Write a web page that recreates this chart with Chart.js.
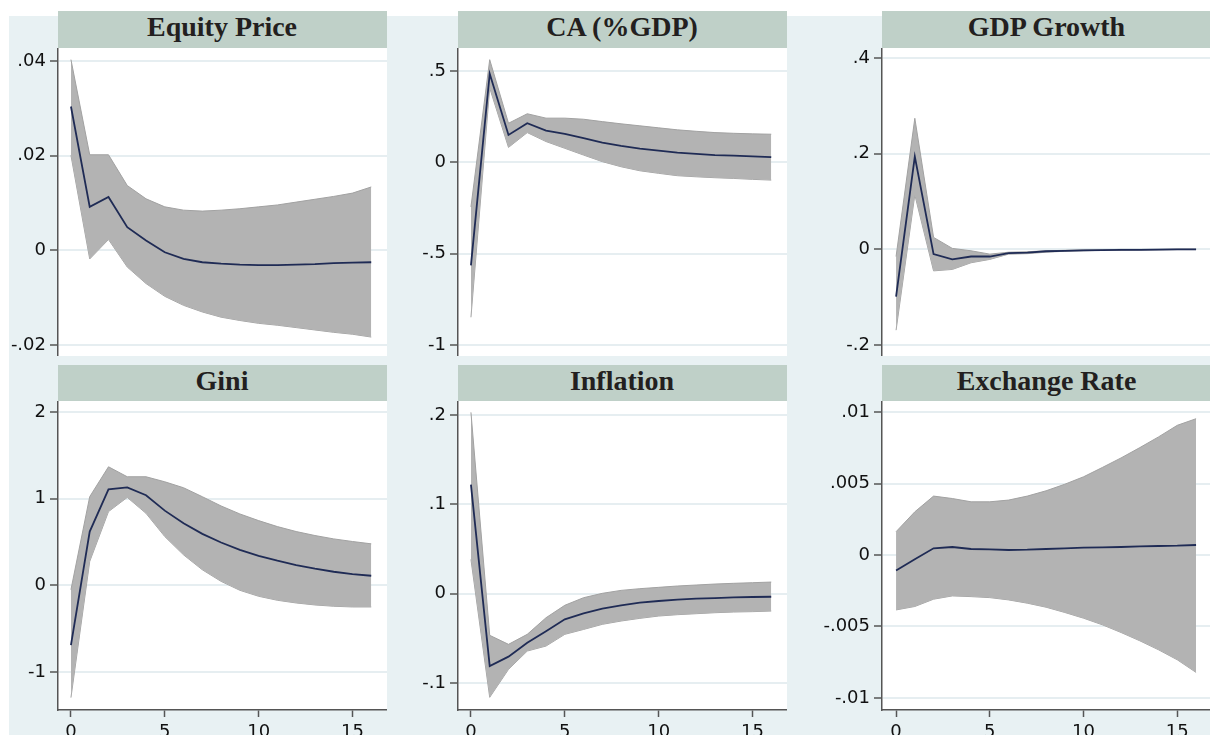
<!DOCTYPE html>
<html>
<head>
<meta charset="utf-8">
<script src="https://cdn.jsdelivr.net/npm/chart.js@4.4.1/dist/chart.umd.min.js"></script>
<style>
  html, body { margin: 0; padding: 0; background: #fff; }
  body { width: 1210px; height: 735px; position: relative; overflow: hidden; }
  #bg { position: absolute; left: 9px; top: 16px; right: 0; bottom: 0; background: #E8F1F3; }
  .title {
    position: absolute; height: 37px; line-height: 36px; background: #BFD0C8;
    text-align: center; font: bold 28px 'Liberation Serif', serif; color: #231f20;
  }
  .box { position: absolute; }
</style>
</head>
<body>
<div id="bg"></div>
<script>
// horizon (periods after the shock)
const horizon = [0, 1, 2, 3, 4, 5, 6, 7, 8, 9, 10, 11, 12, 13, 14, 15, 16];
const xTicks = [0, 5, 10, 15];
const xTickLabels = ['0', '5', '10', '15'];

const equityLine  = [0.0304, 0.0092, 0.0113, 0.0049, 0.0021, -0.0004, -0.0018, -0.0025, -0.0028, -0.0030, -0.0031, -0.0031, -0.0030, -0.0029, -0.0027, -0.0026, -0.0025];
const equityUpper = [0.0403, 0.0202, 0.0202, 0.0137, 0.0109, 0.0092, 0.0085, 0.0083, 0.0085, 0.0088, 0.0092, 0.0096, 0.0102, 0.0108, 0.0114, 0.0121, 0.0134];
const equityLower = [0.0201, -0.0018, 0.0023, -0.0035, -0.0070, -0.0097, -0.0116, -0.0130, -0.0141, -0.0148, -0.0154, -0.0158, -0.0163, -0.0168, -0.0173, -0.0177, -0.0183];
const equityTicks = [-0.02, 0, 0.02, 0.04];
const equityTickLabels = ['-.02', '0', '.02', '.04'];

const caLine  = [-0.564, 0.485, 0.150, 0.214, 0.174, 0.156, 0.132, 0.108, 0.090, 0.075, 0.064, 0.053, 0.046, 0.040, 0.037, 0.033, 0.029];
const caUpper = [-0.244, 0.562, 0.214, 0.266, 0.242, 0.242, 0.236, 0.223, 0.211, 0.200, 0.189, 0.178, 0.170, 0.163, 0.159, 0.156, 0.154];
const caLower = [-0.848, 0.407, 0.082, 0.163, 0.114, 0.077, 0.040, 0.004, -0.024, -0.046, -0.060, -0.073, -0.079, -0.084, -0.088, -0.093, -0.097];
const caTicks = [-1, -0.5, 0, 0.5];
const caTickLabels = ['-1', '-.5', '0', '.5'];

const gdpLine  = [-0.099, 0.194, -0.010, -0.021, -0.015, -0.015, -0.008, -0.007, -0.004, -0.003, -0.002, -0.0015, -0.001, -0.001, -0.0005, 0, 0];
const gdpUpper = [-0.015, 0.274, 0.025, 0.002, -0.003, -0.010, -0.006, -0.005, -0.003, -0.002, -0.001, -0.001, 0, 0, 0, 0.0005, 0.0005];
const gdpLower = [-0.169, 0.114, -0.045, -0.042, -0.028, -0.021, -0.010, -0.009, -0.006, -0.004, -0.003, -0.002, -0.002, -0.0015, -0.001, -0.0005, -0.0005];
const gdpTicks = [-0.2, 0, 0.2, 0.4];
const gdpTickLabels = ['-.2', '0', '.2', '.4'];

const giniLine  = [-0.69, 0.62, 1.107, 1.13, 1.04, 0.862, 0.716, 0.594, 0.494, 0.41, 0.341, 0.284, 0.234, 0.192, 0.157, 0.130, 0.111];
const giniUpper = [-0.05, 1.023, 1.368, 1.253, 1.253, 1.195, 1.126, 1.023, 0.916, 0.824, 0.747, 0.678, 0.621, 0.575, 0.536, 0.506, 0.479];
const giniLower = [-1.295, 0.276, 0.851, 1.015, 0.831, 0.563, 0.352, 0.18, 0.046, -0.057, -0.126, -0.172, -0.203, -0.226, -0.241, -0.249, -0.249];
const giniTicks = [-1, 0, 1, 2];
const giniTickLabels = ['-1', '0', '1', '2'];

const inflLine  = [0.122, -0.081, -0.0705, -0.055, -0.042, -0.0287, -0.022, -0.0168, -0.013, -0.010, -0.0082, -0.0067, -0.0056, -0.0049, -0.0041, -0.0037, -0.0034];
const inflUpper = [0.203, -0.0466, -0.0567, -0.0455, -0.0269, -0.013, -0.0045, 0.0004, 0.0037, 0.0056, 0.0071, 0.0086, 0.0097, 0.0108, 0.0116, 0.0123, 0.013];
const inflLower = [0.0384, -0.116, -0.0847, -0.0642, -0.0586, -0.0455, -0.040, -0.0343, -0.0306, -0.0276, -0.025, -0.0235, -0.0224, -0.0213, -0.0205, -0.0201, -0.0194];
const inflTicks = [-0.1, 0, 0.1, 0.2];
const inflTickLabels = ['-.1', '0', '.1', '.2'];

const fxLine  = [-0.00109, -0.0003, 0.00047, 0.00056, 0.00042, 0.0004, 0.00035, 0.00037, 0.00042, 0.00047, 0.00051, 0.00053, 0.00056, 0.0006, 0.00063, 0.00065, 0.0007];
const fxUpper = [0.00163, 0.00302, 0.00412, 0.00395, 0.00372, 0.00372, 0.00384, 0.00412, 0.00449, 0.00495, 0.00547, 0.00612, 0.00679, 0.00751, 0.00826, 0.00907, 0.00953];
const fxLower = [-0.00384, -0.0036, -0.00309, -0.00286, -0.00291, -0.00298, -0.00314, -0.00337, -0.00365, -0.00402, -0.00442, -0.00488, -0.00542, -0.006, -0.00663, -0.00733, -0.00821];
const fxTicks = [-0.01, -0.005, 0, 0.005, 0.01];
const fxTickLabels = ['-.01', '-.005', '0', '.005', '.01'];

// panel grid geometry (pixels) and axis ranges
const cols = [
  { axis: 58,  right: 387,  xMin: -0.69, xMax: 16.84 },
  { axis: 458, right: 787,  xMin: -0.69, xMax: 16.84 },
  { axis: 882, right: 1212, xMin: -0.75, xMax: 16.85 }
];
const rows = [
  { titleTop: 11,  top: 48,  bottom: 356, xAxis: false },
  { titleTop: 365, top: 401, bottom: 710, xAxis: true }
];
const Y_AXIS_W = 72;
const X_AXIS_H = 25;

const panels = [
  { title: 'Equity Price',  line: equityLine, upper: equityUpper, lower: equityLower, ticks: equityTicks, labels: equityTickLabels, yMin: -0.0223, yMax: 0.04275, col: 0, row: 0 },
  { title: 'CA (%GDP)',     line: caLine,     upper: caUpper,     lower: caLower,     ticks: caTicks,     labels: caTickLabels,     yMin: -1.060,  yMax: 0.626,   col: 1, row: 0 },
  { title: 'GDP Growth',    line: gdpLine,    upper: gdpUpper,    lower: gdpLower,    ticks: gdpTicks,    labels: gdpTickLabels,    yMin: -0.223,  yMax: 0.421,   col: 2, row: 0 },
  { title: 'Gini',          line: giniLine,   upper: giniUpper,   lower: giniLower,   ticks: giniTicks,   labels: giniTickLabels,   yMin: -1.438,  yMax: 2.127,   col: 0, row: 1 },
  { title: 'Inflation',     line: inflLine,   upper: inflUpper,   lower: inflLower,   ticks: inflTicks,   labels: inflTickLabels,   yMin: -0.1302, yMax: 0.2157,  col: 1, row: 1 },
  { title: 'Exchange Rate', line: fxLine,     upper: fxUpper,     lower: fxLower,     ticks: fxTicks,     labels: fxTickLabels,     yMin: -0.01084, yMax: 0.01077, col: 2, row: 1 }
];

const tickFont = { family: "'DejaVu Sans', sans-serif", size: 18 };
const axisGray = '#555555';

// white plot region behind the series
const plotBg = {
  id: 'plotBg',
  beforeDraw(chart) {
    const a = chart.chartArea, ctx = chart.ctx;
    ctx.save();
    ctx.fillStyle = '#ffffff';
    ctx.fillRect(a.left, a.top, a.right - a.left, a.bottom - a.top);
    ctx.restore();
  }
};

const pts = arr => horizon.map((h, i) => ({ x: h, y: arr[i] }));

panels.forEach(p => {
  const c = cols[p.col], r = rows[p.row];

  const t = document.createElement('div');
  t.className = 'title';
  t.textContent = p.title;
  t.style.left = (c.axis - 0.5) + 'px';
  t.style.top = r.titleTop + 'px';
  t.style.width = (c.right - c.axis) + 'px';
  document.body.appendChild(t);

  const xH = r.xAxis ? X_AXIS_H : 0;
  const w = Y_AXIS_W + (c.right - c.axis);
  const h = (r.bottom - r.top) + xH;
  const box = document.createElement('div');
  box.className = 'box';
  box.style.left = (c.axis - Y_AXIS_W) + 'px';
  box.style.top = r.top + 'px';
  const cv = document.createElement('canvas');
  cv.width = w; cv.height = h;
  cv.style.width = w + 'px'; cv.style.height = h + 'px';
  box.appendChild(cv);
  document.body.appendChild(box);

  new Chart(cv, {
    type: 'line',
    data: {
      datasets: [
        { data: pts(p.line), borderColor: '#1f2b55', borderWidth: 1.8, pointRadius: 0, fill: false, tension: 0 },
        { data: pts(p.upper), borderColor: '#a2a2a2', borderWidth: 1, pointRadius: 0, backgroundColor: '#b3b3b3', fill: '+1', tension: 0 },
        { data: pts(p.lower), borderColor: '#a2a2a2', borderWidth: 1, pointRadius: 0, fill: false, tension: 0 }
      ]
    },
    options: {
      responsive: false,
      animation: false,
      layout: { padding: 0 },
      plugins: { legend: { display: false }, tooltip: { enabled: false } },
      scales: {
        x: {
          type: 'linear',
          min: c.xMin,
          max: c.xMax,
          display: r.xAxis,
          afterBuildTicks: s => { s.ticks = xTicks.map(v => ({ value: v })); },
          afterFit: s => { s.height = xH; s.paddingLeft = 0; s.paddingRight = 0; },
          ticks: { font: tickFont, color: '#111', padding: 5, maxRotation: 0, autoSkip: false,
                   callback: (v, i) => xTickLabels[i] },
          grid: { drawOnChartArea: false, tickColor: axisGray, tickLength: 7, tickWidth: 1.5 },
          border: { color: axisGray, width: 1.5 }
        },
        y: {
          type: 'linear',
          min: p.yMin,
          max: p.yMax,
          afterBuildTicks: s => { s.ticks = p.ticks.map(v => ({ value: v })); },
          afterFit: s => { s.width = Y_AXIS_W; s.paddingTop = 0; s.paddingBottom = 0; },
          ticks: { font: tickFont, color: '#111', padding: 4, autoSkip: false,
                   callback: (v, i) => p.labels[i] },
          grid: { color: '#E6EEF1', lineWidth: 2, tickColor: axisGray, tickLength: 8, tickWidth: 1.5 },
          border: { color: axisGray, width: 1.5 }
        }
      }
    },
    plugins: [plotBg]
  });
});
</script>
</body>
</html>
